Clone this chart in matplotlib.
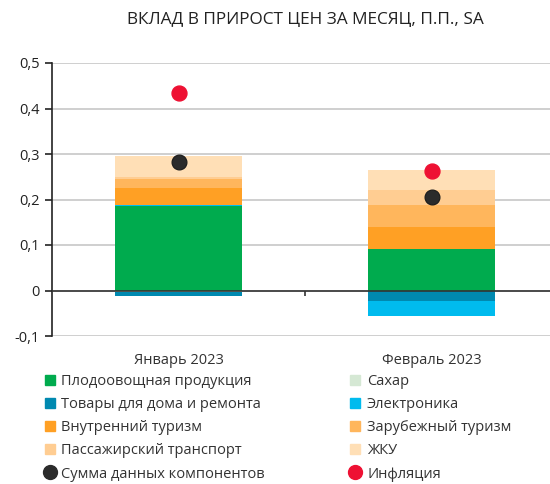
import numpy as np
import matplotlib.pyplot as plt
from matplotlib.lines import Line2D

plt.rcParams['font.family'] = ['Open Sans', 'DejaVu Sans']

months = ['Январь 2023', 'Февраль 2023']

# contributions, p.p.
components = [
    'Плодоовощная продукция',
    'Сахар',
    'Товары для дома и ремонта',
    'Электроника',
    'Внутренний туризм',
    'Зарубежный туризм',
    'Пассажирский транспорт',
    'ЖКУ',
]
fruit_veg = [0.185, 0.092]
sugar = [-0.004, 0.0]
home_goods = [-0.007, -0.024]
electronics = [0.003, -0.033]
domestic_tour = [0.038, 0.048]
foreign_tour = [0.018, 0.047]
transport = [0.005, 0.034]
housing = [0.047, 0.044]

total_components = [0.282, 0.205]
inflation = [0.434, 0.262]

colors = ['#00ab4e', '#d5e8d4', '#0089b0', '#00bbee',
          '#ffa024', '#ffb65c', '#ffcd92', '#ffdfb6']

series = [fruit_veg, sugar, home_goods, electronics,
          domestic_tour, foreign_tour, transport, housing]

fig = plt.figure(figsize=(5.5, 4.84), dpi=100)
ax = fig.add_axes([52 / 550, 148 / 484, 498 / 550, 273 / 484])

x = np.arange(len(months))
pos_base = np.zeros(len(months))
neg_base = np.zeros(len(months))
for vals, col in zip(series, colors):
    v = np.array(vals)
    base = np.where(v >= 0, pos_base, neg_base)
    ax.bar(x, v, 0.5, bottom=base, color=col, zorder=2)
    pos_base += np.where(v >= 0, v, 0)
    neg_base += np.where(v < 0, v, 0)

ax.scatter(x, total_components, s=115, color='#2b2b2b', edgecolor='#1a1a1a',
           linewidth=0.8, zorder=4)
ax.scatter(x, inflation, s=115, color='#ee1133', zorder=4)

ax.set_xlim(-0.5, 1.468)
ax.set_ylim(-0.1, 0.5)
yt = np.arange(-0.1, 0.51, 0.1)
ax.set_yticks(yt)
ax.set_yticklabels([('%.1f' % t).replace('.', ',') if abs(t) > 1e-9 else '0'
                    for t in yt])
ax.yaxis.grid(True, color='#cfcfcf', linewidth=1.4, zorder=0)
ax.set_axisbelow(True)
ax.axhline(0, color='#333333', linewidth=1.2, zorder=3)
ax.vlines(0.5, -0.011, 0, color='#333333', linewidth=1.2, zorder=3)

ax.set_xticks(x)
ax.set_xticklabels(months)
ax.tick_params(axis='x', length=0, pad=12, labelsize=10.5, colors='#333333')
ax.tick_params(axis='y', length=5, width=1.2, labelsize=10.5,
               colors='#222222', pad=4)
for side in ['top', 'right', 'bottom']:
    ax.spines[side].set_visible(False)
ax.spines['left'].set_color('#222222')
ax.spines['left'].set_linewidth(1.2)

fig.text(0.555, 1 - 20 / 484, 'ВКЛАД В ПРИРОСТ ЦЕН ЗА МЕСЯЦ, П.П., SA',
         ha='center', va='center', fontsize=12.4, color='#222222')

handles = []
labels = []
order = [0, 2, 4, 6, 1, 3, 5, 7]
for i in order[:4]:
    handles.append(Line2D([], [], marker='s', linestyle='none',
                          markersize=7, color=colors[i]))
    labels.append(components[i])
handles.append(Line2D([], [], marker='o', linestyle='none', markersize=10,
                      color='#2b2b2b'))
labels.append('Сумма данных компонентов')
for i in order[4:]:
    handles.append(Line2D([], [], marker='s', linestyle='none',
                          markersize=7, color=colors[i]))
    labels.append(components[i])
handles.append(Line2D([], [], marker='o', linestyle='none', markersize=10,
                      color='#ee1133'))
labels.append('Инфляция')

fig.legend(handles, labels, loc='upper left', ncol=2, frameon=False,
           bbox_to_anchor=(38 / 550, 1 - 368 / 484), fontsize=10.5,
           handlelength=0.8, handletextpad=0.4, columnspacing=5.8,
           labelspacing=0.56, borderaxespad=0, labelcolor='#333333')

fig.savefig('out.png', dpi=100)
